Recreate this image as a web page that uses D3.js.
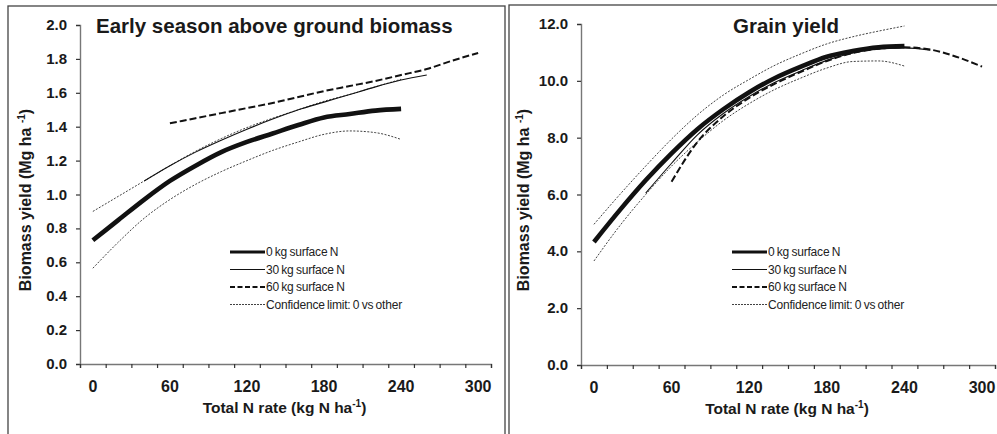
<!DOCTYPE html>
<html>
<head>
<meta charset="utf-8">
<script src="https://cdn.jsdelivr.net/npm/d3@7"></script>
<style>
  body { margin: 0; background: #fff; }
  svg { font-family: "Liberation Sans", Arial, sans-serif; }
  .tick-label { font-weight: bold; fill: #1a1a1a; }
  .legend text { font-size: 12px; fill: #222; letter-spacing: -0.2px; word-spacing: -0.8px; }
</style>
</head>
<body>
<div id="chart"></div>
<script>
(function () {

  // N rate (kg N/ha) for each estimated point
  var nRate = [0, 20, 40, 60, 80, 100, 120, 140, 160, 180, 200, 220, 240, 260, 280, 300]

  // Early season above ground biomass (Mg/ha)
  var bioZero  = [0.73, 0.85, 0.97, 1.08, 1.17, 1.25, 1.31, 1.36, 1.41, 1.455, 1.475, 1.495, 1.505]
  var bioThirty = [null, null, 1.08, 1.17, 1.25, 1.32, 1.385, 1.445, 1.50, 1.545, 1.59, 1.635, 1.675, 1.705]
  var bioSixty = [null, null, null, 1.42, 1.45, 1.48, 1.51, 1.54, 1.575, 1.61, 1.64, 1.67, 1.705, 1.74, 1.79, 1.835]
  var bioUpper = [0.90, 0.99, 1.08, 1.17, 1.255, 1.33, 1.395, 1.45, 1.50, 1.55, 1.59, 1.635, 1.68]
  var bioLower = [0.565, 0.72, 0.86, 0.97, 1.06, 1.135, 1.20, 1.26, 1.31, 1.355, 1.375, 1.365, 1.325]

  // Grain yield (Mg/ha)
  var grainZero  = [4.33, 5.45, 6.5, 7.45, 8.3, 9.0, 9.6, 10.1, 10.5, 10.85, 11.05, 11.18, 11.22]
  var grainThirty = [null, null, 6.05, 7.1, 8.1, 8.85, 9.45, 9.95, 10.35, 10.72, 10.98, 11.12, 11.16, 11.08]
  var grainSixty = [null, null, null, 6.45, 7.85, 8.75, 9.4, 9.9, 10.32, 10.7, 10.98, 11.13, 11.18, 11.1, 10.85, 10.5]
  var grainUpper = [4.95, 6.0, 7.0, 7.95, 8.8, 9.5, 10.05, 10.55, 10.95, 11.3, 11.55, 11.75, 11.93]
  var grainLower = [3.66, 4.9, 6.0, 7.0, 7.85, 8.6, 9.2, 9.7, 10.1, 10.45, 10.68, 10.7, 10.52]

  var xTickLabels = [0, 60, 120, 180, 240, 300]
  var bioTicks = [0, 0.2, 0.4, 0.6, 0.8, 1.0, 1.2, 1.4, 1.6, 1.8, 2.0]
  var grainTicks = [0, 2, 4, 6, 8, 10, 12]

  var legendLabels = ["0 kg surface N", "30 kg surface N", "60 kg surface N", "Confidence limit: 0 vs other"]

  var styles = [
    { width: 4.6, dash: null },
    { width: 1.1, dash: null },
    { width: 2, dash: "7,3" },
    { width: 0.8, dash: "2,1.5" }
  ]

  var svg = d3.select("#chart")
    .append("svg")
    .attr("width", 997)
    .attr("height", 434)

  function pairs(values) {
    var out = []
    values.forEach(function (v, i) {
      if (v != null) out.push([nRate[i], v])
    })
    return out
  }

  function drawPanel(opt) {
    var g = svg.append("g")

    // panel frame
    g.append("rect")
      .attr("x", opt.frame[0]).attr("y", opt.frame[1])
      .attr("width", opt.frame[2]).attr("height", opt.frame[3])
      .attr("fill", "none")
      .attr("stroke", "#444")
      .attr("stroke-width", 1.3)

    var x = d3.scaleLinear().domain([-10, 310]).range(opt.xRange)
    var y = d3.scaleLinear().domain(opt.yDomain).range(opt.yRange)

    // axes
    var yAxis = d3.axisLeft(y).tickValues(opt.yTicks).tickSize(4).tickFormat("")
    g.append("g")
      .attr("transform", "translate(" + opt.xRange[0] + ",0)")
      .call(yAxis)
      .call(function (s) {
        s.select(".domain").attr("stroke", "#777").attr("stroke-width", 1.4)
        s.selectAll(".tick line").attr("stroke", "#333").attr("stroke-width", 1.2)
      })

    var xAxis = d3.axisBottom(x).tickValues(d3.range(-10, 311, 20)).tickSize(4).tickFormat("")
    g.append("g")
      .attr("transform", "translate(0," + opt.yRange[0] + ")")
      .call(xAxis)
      .call(function (s) {
        s.select(".domain").attr("stroke", "#777").attr("stroke-width", 1.4)
        s.selectAll(".tick line").attr("stroke", "#333").attr("stroke-width", 1.2)
      })

    // tick labels
    g.selectAll(".ylab")
      .data(opt.yTicks)
      .enter().append("text")
      .attr("class", "tick-label")
      .attr("x", opt.xRange[0] - 13)
      .attr("y", function (d) { return y(d) + 5 })
      .attr("text-anchor", "end")
      .attr("font-size", "15px")
      .text(function (d) { return d.toFixed(1) })

    g.selectAll(".xlab")
      .data(xTickLabels)
      .enter().append("text")
      .attr("class", "tick-label")
      .attr("x", function (d) { return x(d) })
      .attr("y", opt.yRange[0] + 28)
      .attr("text-anchor", "middle")
      .attr("font-size", "16px")
      .text(function (d) { return d })

    // axis titles
    var xt = g.append("text")
      .attr("x", (opt.xRange[0] + opt.xRange[1]) / 2 - 1)
      .attr("y", opt.yRange[0] + 49)
      .attr("text-anchor", "middle")
      .attr("font-size", "15.5px")
      .attr("font-weight", "bold")
      .attr("fill", "#1a1a1a")
    xt.append("tspan").text("Total N rate (kg N ha")
    xt.append("tspan").attr("dy", -6).attr("font-size", "10px").text("-1")
    xt.append("tspan").attr("dy", 6).text(")")

    var yt = g.append("text")
      .attr("transform", "translate(" + opt.yTitleX + ",200) rotate(-90)")
      .attr("text-anchor", "middle")
      .attr("font-size", "16px")
      .attr("font-weight", "bold")
      .attr("fill", "#1a1a1a")
    yt.append("tspan").text("Biomass yield (Mg ha ")
    yt.append("tspan").attr("dy", -6).attr("font-size", "10px").text("-1")
    yt.append("tspan").attr("dy", 6).text(")")

    // title
    g.append("text")
      .attr("x", opt.titleX)
      .attr("y", 33)
      .attr("text-anchor", opt.titleAnchor)
      .attr("font-size", "20.5px")
      .attr("font-weight", "bold")
      .attr("fill", "#1a1a1a")
      .text(opt.title)

    // curves
    var line = d3.line()
      .x(function (d) { return x(d[0]) })
      .y(function (d) { return y(d[1]) })
      .curve(d3.curveMonotoneX)

    var series = [
      { values: opt.lower, style: styles[3] },
      { values: opt.upper, style: styles[3] },
      { values: opt.thirty, style: styles[1] },
      { values: opt.sixty, style: styles[2] },
      { values: opt.zero, style: styles[0] }
    ]

    g.selectAll(".curve")
      .data(series)
      .enter().append("path")
      .attr("class", "curve")
      .attr("d", function (d) { return line(pairs(d.values)) })
      .attr("fill", "none")
      .attr("stroke", "#111")
      .attr("stroke-linecap", "butt")
      .attr("stroke-width", function (d) { return d.style.width })
      .attr("stroke-dasharray", function (d) { return d.style.dash })

    // legend
    var leg = g.append("g")
      .attr("class", "legend")
      .attr("transform", "translate(" + opt.legendX + ",252)")

    var rows = leg.selectAll("g")
      .data(legendLabels)
      .enter().append("g")
      .attr("transform", function (d, i) { return "translate(0," + (i * 17.5) + ")" })

    rows.append("line")
      .attr("x1", 0).attr("x2", 35)
      .attr("stroke", "#111")
      .attr("stroke-width", function (d, i) { return i == 0 ? 3 : (i == 3 ? 0.8 : styles[i].width) })
      .attr("stroke-dasharray", function (d, i) { return i == 2 ? "5,2.5" : (i == 3 ? "2,1" : null) })

    rows.append("text")
      .attr("x", 36)
      .attr("y", 4)
      .text(function (d) { return d })
  }

  drawPanel({
    frame: [8, 6, 497, 440],
    xRange: [80, 491],
    yDomain: [0, 2],
    yRange: [364, 25],
    yTicks: bioTicks,
    yTitleX: 31,
    title: "Early season above ground biomass",
    titleX: 96,
    titleAnchor: "start",
    zero: bioZero, thirty: bioThirty, sixty: bioSixty, upper: bioUpper, lower: bioLower,
    legendX: 230
  })

  drawPanel({
    frame: [509, 5, 500, 440],
    xRange: [581, 995],
    yDomain: [0, 12],
    yRange: [365, 24],
    yTicks: grainTicks,
    yTitleX: 529,
    title: "Grain yield",
    titleX: 786,
    titleAnchor: "middle",
    zero: grainZero, thirty: grainThirty, sixty: grainSixty, upper: grainUpper, lower: grainLower,
    legendX: 732
  })

})()
</script>
</body>
</html>
